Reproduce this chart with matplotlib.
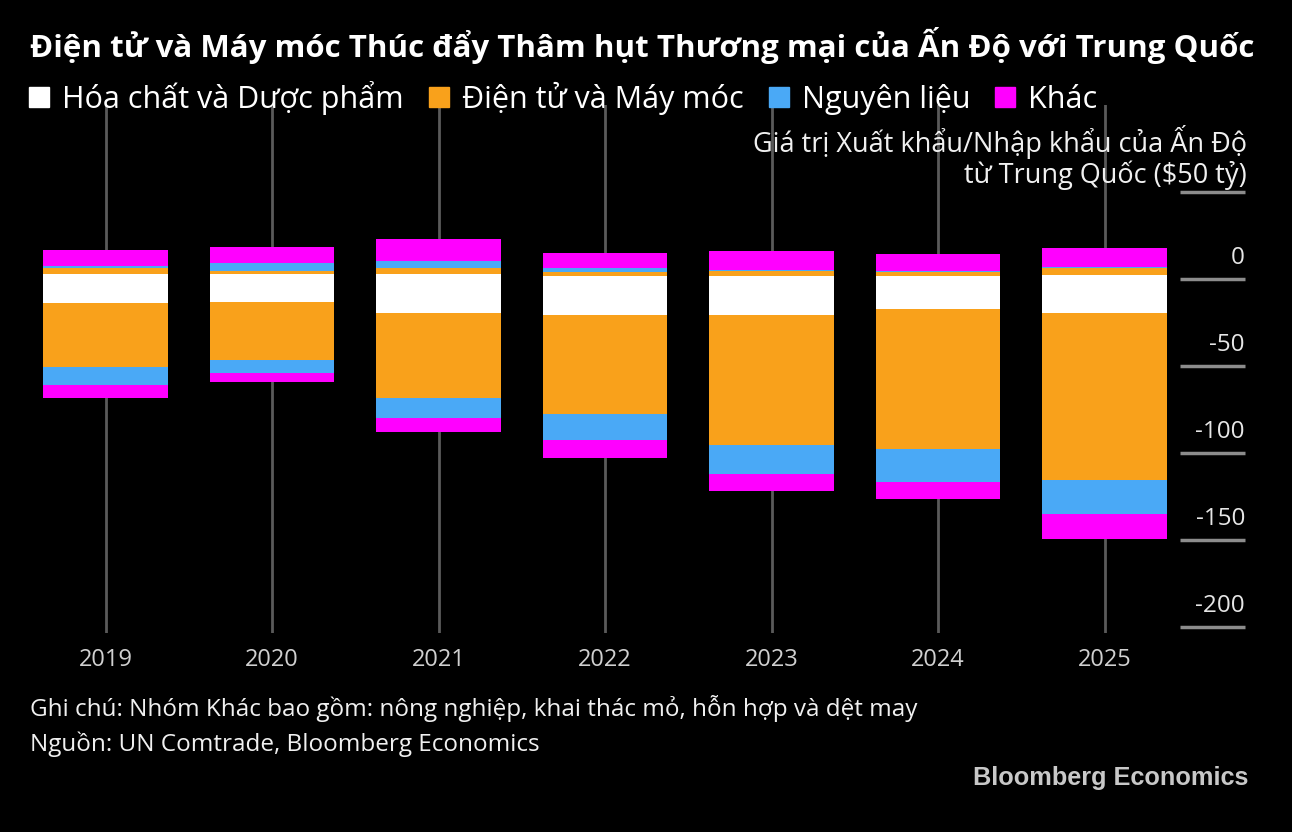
import matplotlib
matplotlib.use("Agg")
import matplotlib.pyplot as plt
import matplotlib.transforms as mtransforms
from matplotlib.lines import Line2D

plt.rcParams['font.family'] = ['Open Sans', 'DejaVu Sans']

# du lieu (ty USD)
years = ['2019', '2020', '2021', '2022', '2023', '2024', '2025']

# xuat khau (duong)
chem_exp = [3.2, 2.9, 2.7, 1.7, 1.9, 1.7, 2.1]
elec_exp = [3.0, 1.7, 3.4, 2.5, 2.7, 2.6, 4.5]
raw_exp = [1.2, 4.8, 4.4, 2.3, 0.6, 0.5, 0.5]
other_exp = [9.2, 9.2, 12.3, 8.3, 10.9, 9.6, 10.6]

# nhap khau (am)
chem_imp = [13.6, 13.0, 19.3, 20.7, 20.7, 17.4, 19.3]
elec_imp = [36.7, 33.5, 49.1, 56.8, 74.6, 80.4, 96.1]
raw_imp = [10.7, 7.3, 11.5, 14.9, 16.8, 18.6, 19.7]
other_imp = [7.5, 5.2, 7.7, 10.2, 9.6, 10.1, 14.3]

labels = ['Hóa chất và Dược phẩm', 'Điện tử và Máy móc', 'Nguyên liệu', 'Khác']
colors = ['#ffffff', '#f9a11b', '#4aa9f6', '#ff00ff']
yticks = [0, -50, -100, -150, -200]

fig = plt.figure(figsize=(12.92, 8.32), dpi=100, facecolor='black')
ax = fig.add_axes([22.25 / 1292, 0.2397, (1187.75 - 22.25) / 1292, 0.6341])
ax.set_facecolor('black')

x = list(range(len(years)))
w = 0.745

for xi in x:
    ax.axvline(xi, color='#5a5a5a', lw=2, zorder=0)

exp_series = [chem_exp, elec_exp, raw_exp, other_exp]
imp_series = [chem_imp, elec_imp, raw_imp, other_imp]

bottom_pos = [0.0] * len(years)
for vals, c in zip(exp_series, colors):
    ax.bar(x, vals, w, bottom=bottom_pos, color=c, lw=0, zorder=2)
    bottom_pos = [b + v for b, v in zip(bottom_pos, vals)]

bottom_neg = [0.0] * len(years)
for vals, c in zip(imp_series, colors):
    neg = [-v for v in vals]
    ax.bar(x, neg, w, bottom=bottom_neg, color=c, lw=0, zorder=2)
    bottom_neg = [b + v for b, v in zip(bottom_neg, neg)]

ax.set_xlim(-0.5, 6.5)
ax.set_ylim(-203, 100)
for s in ax.spines.values():
    s.set_visible(False)
ax.set_yticks([])
ax.set_xticks(x)
ax.set_xticklabels(years, color='#d0d0d0', fontsize=17)
ax.tick_params(axis='x', length=0, pad=11)

# vach truc y ben phai, nhan nam tren vach
trans = mtransforms.blended_transform_factory(fig.transFigure, ax.transData)
for v in [50] + yticks:
    ax.plot([1180 / 1292, 1245 / 1292], [v, v], color='#8c8c8c', lw=2.5,
            transform=trans, clip_on=False, solid_capstyle='butt')
lab_trans = mtransforms.offset_copy(trans, fig=fig, y=15.5, units='points')
for v in yticks:
    ax.text(1245 / 1292, v, str(v), transform=lab_trans,
            ha='right', va='center', color='#e6e6e6', fontsize=17.5)

fig.text(1247 / 1292, 1 - 142 / 832, 'Giá trị Xuất khẩu/Nhập khẩu của Ấn Độ',
         ha='right', va='center', color='#f0f0f0', fontsize=19.5)
fig.text(1247 / 1292, 1 - 175 / 832, 'từ Trung Quốc ($50 tỷ)',
         ha='right', va='center', color='#f0f0f0', fontsize=19.5)

fig.text(30 / 1292, 1 - 45 / 832,
         'Điện tử và Máy móc Thúc đẩy Thâm hụt Thương mại của Ấn Độ với Trung Quốc',
         ha='left', va='center', color='white', fontsize=22.5, fontweight='bold')

handles = [Line2D([], [], marker='s', ls='none', markersize=14, color=c) for c in colors]
fig.legend(handles, labels, loc='center left', bbox_to_anchor=(30 / 1292, 1 - 98 / 832),
           ncol=4, frameon=False, fontsize=22, labelcolor='white',
           handlelength=0.6, handletextpad=0.45, columnspacing=0.85, borderpad=0, borderaxespad=0)

fig.text(30 / 1292, 1 - 708 / 832,
         'Ghi chú: Nhóm Khác bao gồm: nông nghiệp, khai thác mỏ, hỗn hợp và dệt may',
         ha='left', va='center', color='#f0f0f0', fontsize=17.5)
fig.text(30 / 1292, 1 - 744 / 832, 'Nguồn: UN Comtrade, Bloomberg Economics',
         ha='left', va='center', color='#f0f0f0', fontsize=17.5)
fig.text(1248 / 1292, 1 - 778 / 832, 'Bloomberg Economics', ha='right', va='center',
         color='#c8c8c8', fontsize=18.2, fontweight='bold', family='Liberation Sans')

fig.savefig('out.png', dpi=100, facecolor='black')
